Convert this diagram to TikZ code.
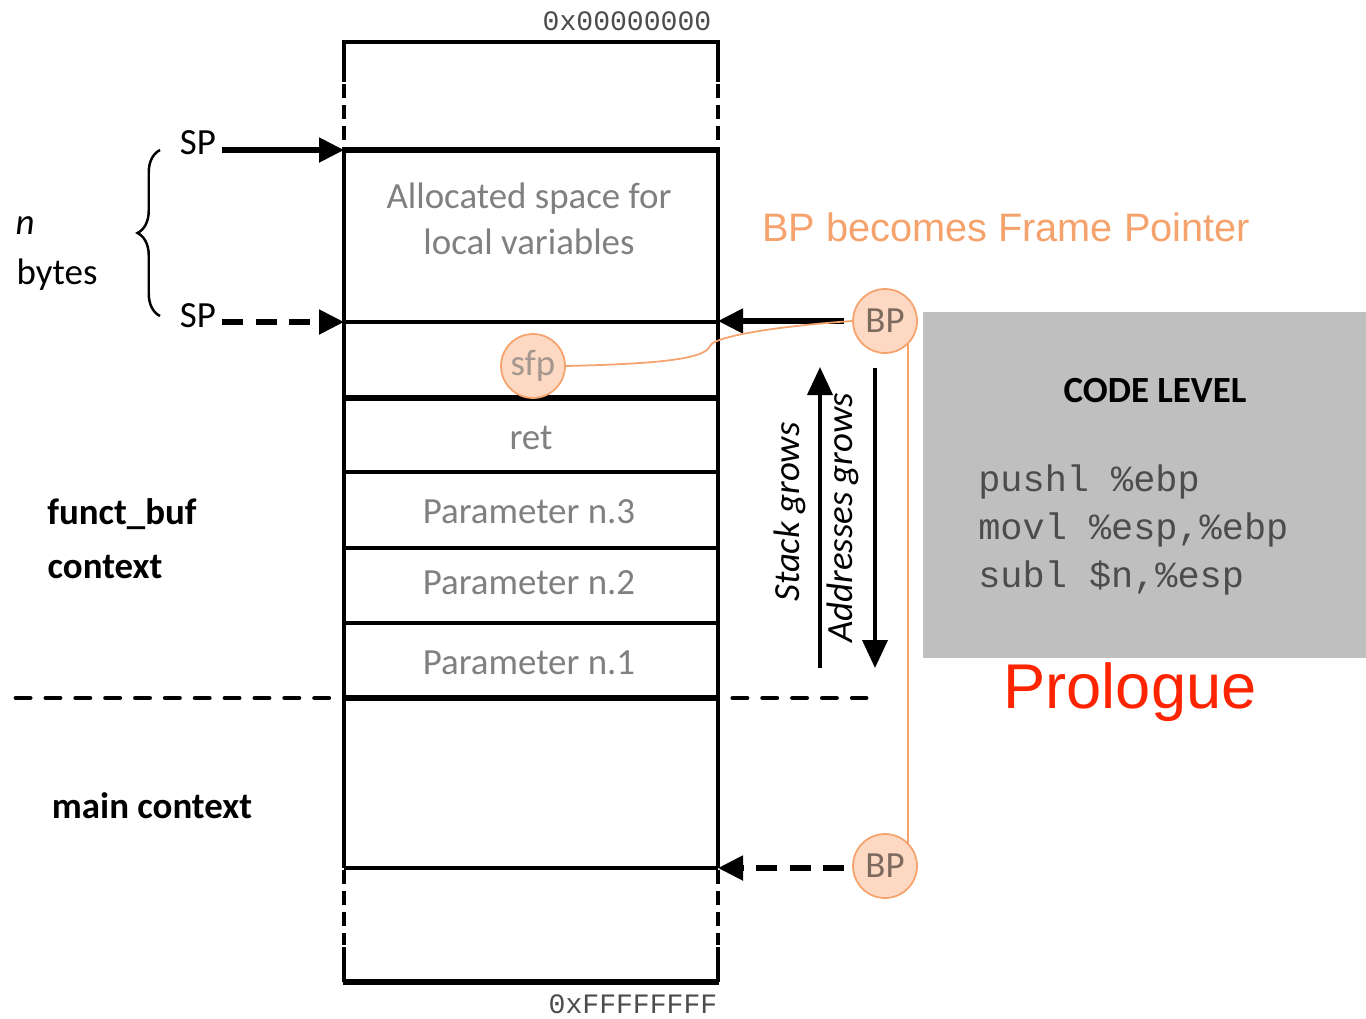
\documentclass[tikz,border=0pt]{standalone}
\usepackage{fontspec}
\setmainfont{Carlito}
\setmonofont{Liberation Mono}
\newfontfamily\arialfont{Liberation Sans}
\usetikzlibrary{arrows.meta,decorations.pathreplacing}

\definecolor{celltext}{HTML}{808080}
\definecolor{bpline}{HTML}{F5A26C}
\definecolor{bpfill}{HTML}{FDD9C3}
\definecolor{bptext}{HTML}{7D6A5F}
\definecolor{codebg}{HTML}{BFBFBF}
\definecolor{prored}{HTML}{FF2400}

\newcommand\lblsize{\fontsize{21}{26}\selectfont}

\tikzset{
  lbl/.style={font=\lblsize},
  celllbl/.style={lbl, text=celltext, align=center},
  ptrdot/.style={circle, draw=bpline, fill=bpfill, line width=1pt, minimum size=1.28cm, inner sep=0pt, lbl, text=bptext},
  ptrarrow/.style={line width=2.9pt, -{Triangle[length=0.5cm,width=0.48cm]}},
  growarrow/.style={line width=2.2pt, -{Triangle[length=0.56cm,width=0.5cm]}},
  codeline/.style={anchor=west, inner sep=0pt, font=\ttfamily\lblsize, text=black!70},
  addr/.style={font=\ttfamily\fontsize{16}{18}\selectfont, text=black!70}
}

\begin{document}
\begin{tikzpicture}[x=0.02cm, y=-0.02cm]
  \useasboundingbox (0,0) rectangle (1366,1018);

  % Stack frame outline
  \draw[line width=2.2pt] (344,82) -- (344,42) -- (718,42) -- (718,82);
  \foreach \x in {344,718}
  {
    \draw[line width=2pt, dash pattern=on 8pt off 4pt] (\x,84) -- (\x,150);
    \draw[line width=2pt] (\x,150) -- (\x,868);
    \draw[line width=2pt, dash pattern=on 8pt off 4pt] (\x,870) -- (\x,945);
    \draw[line width=2pt] (\x,947) -- (\x,982);
  }
  \draw[line width=3pt] (343,982) -- (719,982);

  % Slot borders
  \foreach \y/\w in {150/2.9, 322/2, 398/2.9, 472/2.7, 548/2.4, 623/2.8, 868/2.1}
    \draw[line width=\w pt] (344,\y) -- (718,\y);

  % Context separator
  \draw[line width=2.8pt, dash pattern=on 8pt off 9pt, line cap=round] (16,698) -- (866,698);
  \draw[line width=3pt] (344,698) -- (718,698);

  % Addresses
  \node[addr] (addrLow) at (627,21) {0x00000000};
  \node[addr] (addrHigh) at (633,1004) {0xFFFFFFFF};

  % Slot contents
  \node[celllbl] (locals) at (529,219) {Allocated space for\\local variables};
  \node[celllbl] (ret) at (531,438) {ret};
  \node[celllbl] (par3) at (529,512) {Parameter n.3};
  \node[celllbl] (par2) at (529,583) {Parameter n.2};
  \node[celllbl] (par1) at (529,663) {Parameter n.1};

  % Stack pointer
  \coordinate (spOld) at (344,150);
  \coordinate (spNew) at (344,322);
  \node[lbl] (spA) at (198,143) {SP};
  \node[lbl] (spB) at (198,316) {SP};
  \draw[ptrarrow] (spA.east |- spOld) -- (spOld);
  \draw[ptrarrow, dash pattern=on 12pt off 7pt] (spB.east |- spNew) -- (spNew);

  % n bytes
  \draw[line width=1.4pt, decorate, decoration={brace, amplitude=0.45cm}] (160,316) -- (160,150);
  \node[font=\lblsize\itshape] (nSym) at (25,226) {n};
  \node[lbl] (nBytes) at (57,275) {bytes};

  % Contexts
  \node[font=\lblsize\bfseries] (fbuf) at (122,514) {funct\_buf};
  \node[font=\lblsize\bfseries] (fctx) at (105,567) {context};
  \node[font=\lblsize\bfseries] (mctx) at (152,806) {main context};

  % Growth arrows
  \coordinate (stackLow) at (820,668);
  \coordinate (stackHigh) at (820,367);
  \coordinate (addrTop) at (875,368);
  \coordinate (addrBot) at (875,668);
  \draw[growarrow] (stackLow) -- (stackHigh);
  \draw[growarrow] (addrTop) -- (addrBot);
  \node[font=\lblsize\itshape, rotate=90] (stackTxt) at (790,512) {Stack grows};
  \node[font=\lblsize\itshape, rotate=90] (addrTxt) at (843,518) {Addresses grows};

  % Base pointer
  \node[ptrdot] (bpTop) at (885,321) {BP};
  \node[ptrdot] (bpBot) at (885,866) {BP};
  \node[ptrdot, text=bptext!70] (sfp) at (533,366) {sfp};
  \coordinate (bpNew) at (718,321);
  \coordinate (bpOld) at (718,868);
  \draw[ptrarrow, shorten <=0.16cm] (bpTop.west) -- (bpNew);
  \draw[ptrarrow, dash pattern=on 12pt off 7pt, shorten <=0.16cm] (bpBot.west |- bpOld) -- (bpOld);

  % Saved frame pointer link
  \draw[bpline, line width=1pt] (sfp.east) .. controls (650,364) and (705,360) .. (710,346)
    .. controls (714,336) and (780,326) .. (bpTop.west);
  \draw[bpline, line width=1pt] (bpTop.-45) -- (bpTop.-45 |- bpBot.45);

  % Code level
  \fill[codebg] (923,312) rectangle (1366,658);
  \node[font=\lblsize\bfseries] (codeTitle) at (1155,391) {CODE LEVEL};
  \node[codeline] (pushLine) at (978,482) {pushl \%ebp};
  \node[codeline] (movLine) at (978,530) {movl \%esp,\%ebp};
  \node[codeline] (subLine) at (978,578) {subl \$n,\%esp};

  % Captions
  \node[font=\arialfont\fontsize{22.6}{26}\selectfont, text=bpline] (caption) at (1006,227) {BP becomes Frame Pointer};
  \node[font=\arialfont\fontsize{36}{40}\selectfont, text=prored] (prologue) at (1130,692) {Prologue};
\end{tikzpicture}
\end{document}
